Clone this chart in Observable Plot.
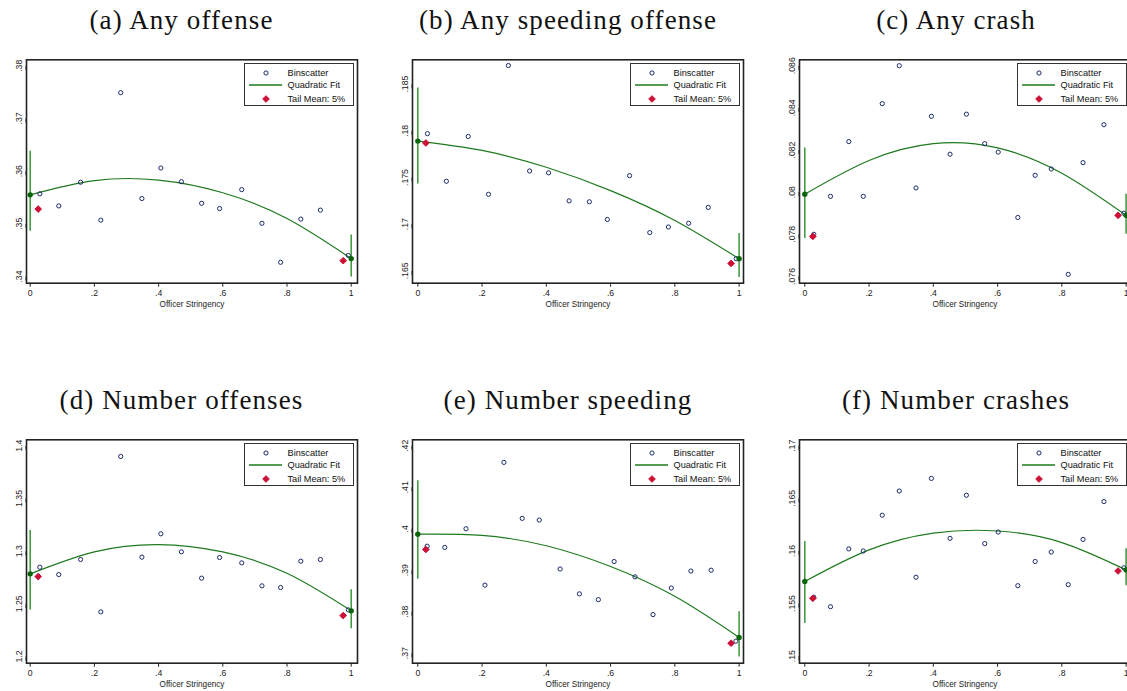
<!DOCTYPE html>
<html>
<head>
<meta charset="utf-8">
<script src="https://cdn.jsdelivr.net/npm/d3@7"></script>
<script src="https://cdn.jsdelivr.net/npm/@observablehq/plot@0.6"></script>
<style>
  html, body { margin: 0; padding: 0; background: #fff; }
  body { width: 1127px; height: 691px; overflow: hidden; position: relative; }
  .panel { position: absolute; }
  .legend { position: absolute; background: #fff; border: 1.2px solid #333; box-sizing: border-box;
            font-family: "Liberation Sans", Arial, sans-serif; font-size: 9.2px; color: #111; }
  .legend .row { position: absolute; left: 0; height: 12px; width: 100%; }
  .legend .row span { position: absolute; left: 43px; top: 0; line-height: 12px; white-space: nowrap; }
  .legend .row svg { position: absolute; left: 0; top: 0; }
  #titles { position: absolute; left: 0; top: 0; }
</style>
</head>
<body>
<script>
// ---------------- DATA ----------------
const titles = ["(a) Any offense", "(b) Any speeding offense", "(c) Any crash",
                "(d) Number offenses", "(e) Number speeding", "(f) Number crashes"];
const legendLabels = ["Binscatter", "Quadratic Fit", "Tail Mean: 5%"];
const xAxisLabel = "Officer Stringency";

const xTicks = [0, 0.2, 0.4, 0.6, 0.8, 1];
const fitX = [0, 0.2, 0.4, 0.6, 0.8, 1];
const tailX = [0.025, 0.975];
const ciX = [0, 1];

// binscatter x positions
const binXOffense = [0.030, 0.089, 0.157, 0.220, 0.282, 0.348, 0.407, 0.471, 0.534, 0.590, 0.659, 0.722, 0.780, 0.843, 0.904, 0.991];
const binXCrash = [0.028, 0.080, 0.137, 0.182, 0.241, 0.294, 0.346, 0.394, 0.452, 0.503, 0.560, 0.602, 0.663, 0.717, 0.767, 0.820, 0.866, 0.931, 0.993];
const binXSpeedN = [0.029, 0.084, 0.150, 0.209, 0.268, 0.325, 0.378, 0.443, 0.503, 0.562, 0.611, 0.676, 0.732, 0.789, 0.850, 0.913, 0.990];

// (a) Any offense
const anyOffBinY = [0.3557, 0.3534, 0.3579, 0.3507, 0.3749, 0.3548, 0.3606, 0.3580, 0.3539, 0.3529, 0.3565, 0.3501, 0.3427, 0.3509, 0.3526, 0.3440];
const anyOffTailY = [0.3528, 0.3430];
const anyOffFitY = [0.3555, 0.3582, 0.3583, 0.3559, 0.3510, 0.3434];
const anyOffCiLo = [0.3486, 0.3399];
const anyOffCiHi = [0.3638, 0.3479];
const anyOffYTicks = [0.34, 0.35, 0.36, 0.37, 0.38];

// (b) Any speeding offense
const anySpdBinY = [0.1797, 0.1746, 0.1794, 0.1732, 0.1870, 0.1757, 0.1755, 0.1725, 0.1724, 0.1705, 0.1752, 0.1691, 0.1697, 0.1701, 0.1718, 0.1663];
const anySpdTailY = [0.1787, 0.1658];
const anySpdFitY = [0.1789, 0.1779, 0.1761, 0.1736, 0.1704, 0.1663];
const anySpdCiLo = [0.1743, 0.1643];
const anySpdCiHi = [0.1846, 0.1690];
const anySpdYTicks = [0.165, 0.17, 0.175, 0.18, 0.185];

// (c) Any crash
const anyCrashBinY = [0.0780, 0.0798, 0.0824, 0.0798, 0.0842, 0.0860, 0.0802, 0.0836, 0.0818, 0.0837, 0.0823, 0.0819, 0.0788, 0.0808, 0.0811, 0.0761, 0.0814, 0.0832, 0.0790];
const anyCrashTailY = [0.0779, 0.0789];
const anyCrashFitY = [0.0799, 0.0815, 0.0823, 0.0821, 0.0809, 0.0789];
const anyCrashCiLo = [0.0778, 0.0780];
const anyCrashCiHi = [0.0821, 0.0799];
const anyCrashYTicks = [0.076, 0.078, 0.08, 0.082, 0.084, 0.086];

// (d) Number offenses
const numOffBinY = [1.2848, 1.2778, 1.2921, 1.2424, 1.3899, 1.2943, 1.3165, 1.2994, 1.2744, 1.2940, 1.2889, 1.2671, 1.2655, 1.2905, 1.2921, 1.2443];
const numOffTailY = [1.2759, 1.2389];
const numOffFitY = [1.2785, 1.2994, 1.3063, 1.2993, 1.2790, 1.2434];
const numOffCiLo = [1.2443, 1.2263];
const numOffCiHi = [1.3196, 1.2633];
const numOffYTicks = [1.2, 1.25, 1.3, 1.35, 1.4];

// (e) Number speeding
const numSpdBinY = [0.3958, 0.3955, 0.4000, 0.3864, 0.4160, 0.4025, 0.4021, 0.3903, 0.3843, 0.3829, 0.3921, 0.3884, 0.3793, 0.3857, 0.3898, 0.3900, 0.3729];
const numSpdTailY = [0.3950, 0.3724];
const numSpdFitY = [0.3987, 0.3984, 0.3959, 0.3909, 0.3837, 0.3738];
const numSpdCiLo = [0.3878, 0.3691];
const numSpdCiHi = [0.4116, 0.3800];
const numSpdYTicks = [0.37, 0.38, 0.39, 0.4, 0.41, 0.42];

// (f) Number crashes
const numCrashBinY = [0.1556, 0.1547, 0.1602, 0.1600, 0.1634, 0.1657, 0.1575, 0.1669, 0.1612, 0.1653, 0.1607, 0.1618, 0.1567, 0.1590, 0.1599, 0.1568, 0.1611, 0.1647, 0.1584];
const numCrashTailY = [0.1555, 0.1581];
const numCrashFitY = [0.1571, 0.1601, 0.1617, 0.1619, 0.1608, 0.1582];
const numCrashCiLo = [0.1531, 0.1567];
const numCrashCiHi = [0.1609, 0.1602];
const numCrashYTicks = [0.15, 0.155, 0.16, 0.165, 0.17];

// ---------------- LAYOUT / STYLE ----------------
const colLeft = [0, 386, 773];
const rowTop = [40, 420];
const svgW = 387, svgH = 270;
const mL = 26, mR = 30, mT = 19.3, mB = 27.3;
const titleCx = [181.5, 568, 956];
const titleBaseline = [29, 409];

const NAVY = "#1c2b6e", GREEN = "#1f7a1f", CIGREEN = "#3a963a", DKGREEN = "#0a640a", RED = "#cc1036";
const DIAMOND_R = 3;

const panels = [
  {title: titles[0], col: 0, row: 0, binX: binXOffense, binY: anyOffBinY, tailY: anyOffTailY, fitY: anyOffFitY, lo: anyOffCiLo, hi: anyOffCiHi, yTicks: anyOffYTicks, yDomain: [0.33873, 0.38114], xDomain: [-0.0115, 1.0196]},
  {title: titles[1], col: 1, row: 0, binX: binXOffense, binY: anySpdBinY, tailY: anySpdTailY, fitY: anySpdFitY, lo: anySpdCiLo, hi: anySpdCiHi, yTicks: anySpdYTicks, yDomain: [0.16368, 0.18761], xDomain: [-0.0165, 1.0137]},
  {title: titles[2], col: 2, row: 0, binX: binXCrash, binY: anyCrashBinY, tailY: anyCrashTailY, fitY: anyCrashFitY, lo: anyCrashCiLo, hi: anyCrashCiHi, yTicks: anyCrashYTicks, yDomain: [0.07568, 0.08628], xDomain: [-0.0165, 1.0137]},
  {title: titles[3], col: 0, row: 1, binX: binXOffense, binY: numOffBinY, tailY: numOffTailY, fitY: numOffFitY, lo: numOffCiLo, hi: numOffCiHi, yTicks: numOffYTicks, yDomain: [1.1937, 1.4057], xDomain: [-0.0115, 1.0196]},
  {title: titles[4], col: 1, row: 1, binX: binXSpeedN, binY: numSpdBinY, tailY: numSpdTailY, fitY: numSpdFitY, lo: numSpdCiLo, hi: numSpdCiHi, yTicks: numSpdYTicks, yDomain: [0.36758, 0.42145], xDomain: [-0.0165, 1.0137]},
  {title: titles[5], col: 2, row: 1, binX: binXCrash, binY: numCrashBinY, tailY: numCrashTailY, fitY: numCrashFitY, lo: numCrashCiLo, hi: numCrashCiHi, yTicks: numCrashYTicks, yDomain: [0.14933, 0.17057], xDomain: [-0.0165, 1.0137]}
];

const fmt = d => {
  if (d === 0) return "0";
  let s = String(+d.toFixed(4));
  return s.replace(/^0\./, ".");
};

for (const p of panels) {
  const bins = p.binX.map((x, i) => ({x, y: p.binY[i]}));
  const tails = tailX.map((x, i) => ({x, y: p.tailY[i]}));
  const fit = fitX.map((x, i) => ({x, y: p.fitY[i]}));
  const ci = ciX.map((x, i) => ({x, lo: p.lo[i], hi: p.hi[i]}));
  const ends = [fit[0], fit[fit.length - 1]];

  const chart = Plot.plot({
    width: svgW, height: svgH,
    marginLeft: mL, marginRight: mR, marginTop: mT, marginBottom: mB,
    style: {fontFamily: "'Liberation Sans', Arial, sans-serif", fontSize: "8.7px", color: "#222", background: "transparent", overflow: "visible"},
    x: {domain: p.xDomain},
    y: {domain: p.yDomain},
    marks: [
      Plot.axisX({ticks: xTicks, tickFormat: fmt, tickSize: 4, tickPadding: 2.5, label: null, stroke: "#222"}),
      Plot.axisY({ticks: p.yTicks, tickFormat: fmt, tickSize: 4, tickPadding: 1, label: null, rotate: -90, textAnchor: "middle", lineAnchor: "bottom", stroke: "#222"}),
      Plot.text([xAxisLabel], {frameAnchor: "bottom", text: d => d, lineAnchor: "middle", dy: 21.5, fontSize: 8.2, fill: "#222"}),
      Plot.ruleX(ci, {x: "x", y1: "lo", y2: "hi", stroke: CIGREEN, strokeWidth: 1.5}),
      Plot.line(fit, {x: "x", y: "y", curve: "natural", stroke: GREEN, strokeWidth: 1.2}),
      Plot.dot(bins, {x: "x", y: "y", r: 2.1, stroke: NAVY, strokeWidth: 1, fill: "none"}),
      Plot.dot(tails, {x: "x", y: "y", symbol: "diamond2", r: DIAMOND_R, fill: RED, stroke: RED, strokeWidth: 1}),
      Plot.dot(ends, {x: "x", y: "y", r: 2.7, fill: DKGREEN}),
      Plot.frame({stroke: "#222", strokeWidth: 1.6})
    ]
  });
  chart.classList.add("panel");
  chart.style.left = colLeft[p.col] + "px";
  chart.style.top = rowTop[p.row] + "px";
  document.body.appendChild(chart);

  // legend (inside plot, top right)
  const lg = document.createElement("div");
  lg.className = "legend";
  lg.style.left = (colLeft[p.col] + mL + 217.5) + "px";
  lg.style.top = (rowTop[p.row] + mT + 3.4) + "px";
  lg.style.width = "110px";
  lg.style.height = "43.5px";
  const rowsY = [3, 15.5, 29];
  const sym = [
    `<circle cx="21" cy="6" r="2.1" fill="none" stroke="${NAVY}" stroke-width="1"/>`,
    `<line x1="4" x2="37" y1="6" y2="6" stroke="${GREEN}" stroke-width="1.4"/>`,
    `<path d="${d3.symbol(d3.symbolDiamond2, Math.PI * DIAMOND_R * DIAMOND_R)()}" transform="translate(21,6)" fill="${RED}" stroke="${RED}" stroke-width="1"/>`
  ];
  legendLabels.forEach((t, i) => {
    const r = document.createElement("div");
    r.className = "row";
    r.style.top = rowsY[i] + "px";
    r.innerHTML = `<svg width="40" height="12">${sym[i]}</svg><span>${t}</span>`;
    lg.appendChild(r);
  });
  document.body.appendChild(lg);
}

// titles
const ns = "http://www.w3.org/2000/svg";
const tsvg = document.createElementNS(ns, "svg");
tsvg.setAttribute("id", "titles");
tsvg.setAttribute("width", 1127);
tsvg.setAttribute("height", 691);
panels.forEach(p => {
  const t = document.createElementNS(ns, "text");
  t.setAttribute("x", titleCx[p.col]);
  t.setAttribute("y", titleBaseline[p.row]);
  t.setAttribute("text-anchor", "middle");
  t.setAttribute("font-family", "'Liberation Serif', 'Times New Roman', serif");
  t.setAttribute("font-size", "27");
  t.setAttribute("letter-spacing", "1.1");
  t.setAttribute("fill", "#111");
  t.textContent = p.title;
  tsvg.appendChild(t);
});
document.body.appendChild(tsvg);
</script>
</body>
</html>
